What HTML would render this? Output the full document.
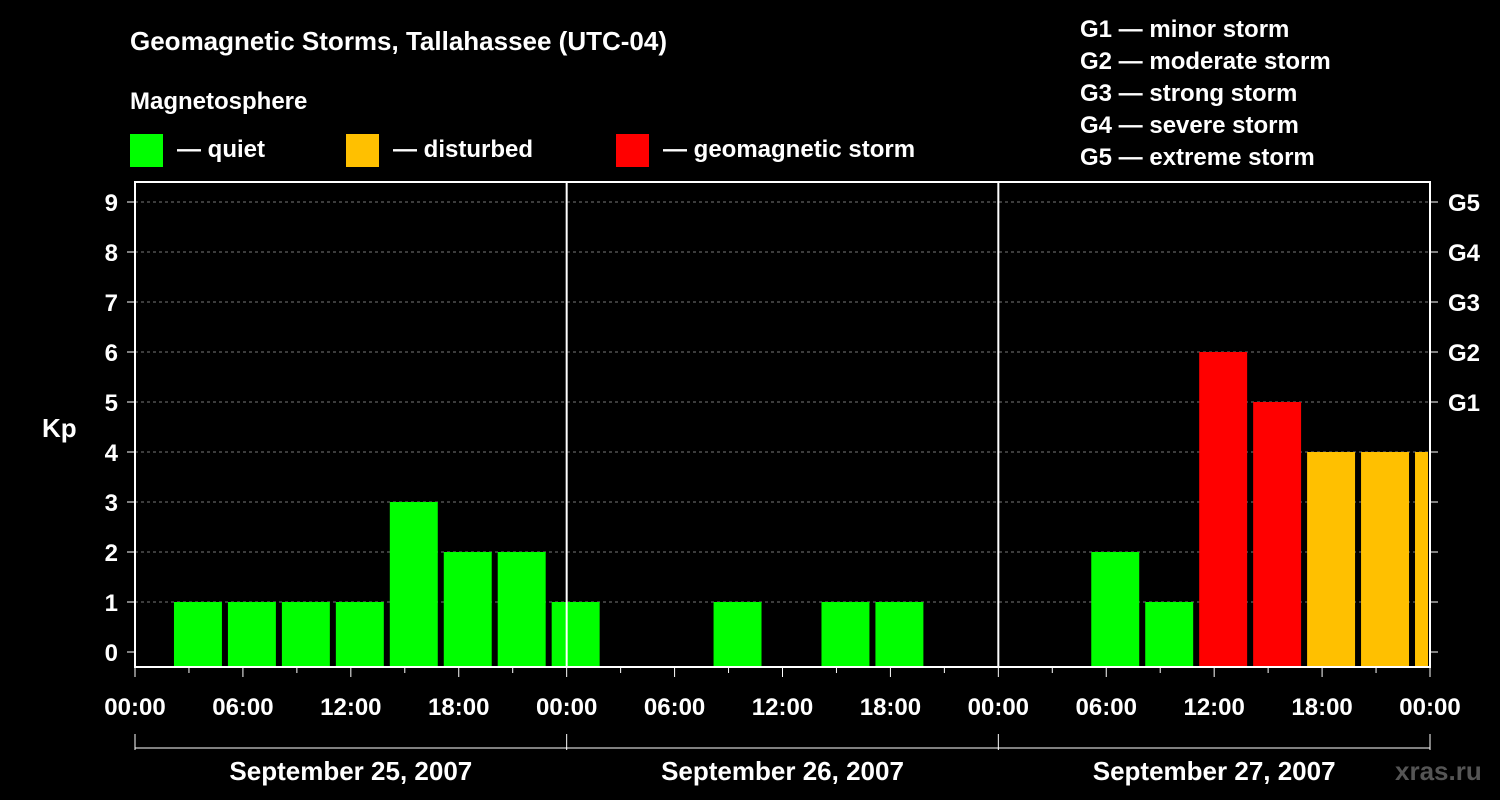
<!DOCTYPE html>
<html><head><meta charset="utf-8"><style>
body{margin:0;background:#000;width:1500px;height:800px;overflow:hidden}
svg{display:block}
text{font-family:"Liberation Sans",sans-serif;font-weight:bold;fill:#fff}
</style></head><body>
<svg id="chart" width="1500" height="800">
<text x="130" y="50" font-size="26">Geomagnetic Storms, Tallahassee (UTC-04)</text>
<text x="130" y="109" font-size="24">Magnetosphere</text>
<g><rect x="130" y="134" width="33" height="33" fill="#00ff00"/><text x="177" y="157" font-size="24">— quiet</text></g>
<g><rect x="346" y="134" width="33" height="33" fill="#ffc000"/><text x="393" y="157" font-size="24">— disturbed</text></g>
<g><rect x="616" y="134" width="33" height="33" fill="#ff0000"/><text x="663" y="157" font-size="24">— geomagnetic storm</text></g>
<g font-size="24">
<text x="1080" y="37">G1 — minor storm</text><text x="1080" y="69">G2 — moderate storm</text><text x="1080" y="101">G3 — strong storm</text><text x="1080" y="133">G4 — severe storm</text><text x="1080" y="165">G5 — extreme storm</text></g>
<text x="42" y="437" font-size="26">Kp</text>
<text x="1395" y="780" font-size="26" fill="#555" style="fill:#555">xras.ru</text>
<g id="grid"></g><g id="bars"></g><g id="axes"></g>
</svg>
<script>
const days=["September 25, 2007","September 26, 2007","September 27, 2007"];
const yTicks=[0,1,2,3,4,5,6,7,8,9];
const gLabels=["G1","G2","G3","G4","G5"];
const xTickLabels=["00:00","06:00","12:00","18:00"];
// bar start hours (local) from start of Sep 25, 3-hour bins
const barStarts=[-1,2,5,8,11,14,17,20,23,26,29,32,35,38,41,44,47,50,53,56,59,62,65,68,71];
const kpValues=[0,1,1,1,1,3,2,2,1,0,0,1,0,1,1,0,0,0,2,1,6,5,4,4,4];
const NS="http://www.w3.org/2000/svg";
const X0=135,X1=1430,Y0=652,YU=50,TOP=182,BOT=667;
const xS=h=>X0+h*(X1-X0)/72, yS=v=>Y0-v*YU;
function mk(t,a,p){const e=document.createElementNS(NS,t);for(const k in a)e.setAttribute(k,a[k]);p.appendChild(e);return e;}
const grid=document.getElementById('grid'),bars=document.getElementById('bars'),axes=document.getElementById('axes');
yTicks.forEach(v=>{if(v>0){const l=mk('line',{x1:X0,x2:X1,y1:yS(v),y2:yS(v),stroke:'#777','stroke-dasharray':'3,3'},grid);

}
const t=mk('text',{x:118,y:yS(v)+9,'font-size':24,'text-anchor':'end'},axes);t.textContent=v;


mk('line',{x1:X1,x2:X1+8,y1:yS(v),y2:yS(v),stroke:'#fff'},axes);
mk('line',{x1:X0-8,x2:X0,y1:yS(v),y2:yS(v),stroke:'#fff'},axes);});
gLabels.forEach((g,i)=>{const t=mk('text',{x:1448,y:yS(i+5)+9,'font-size':24},axes);t.textContent=g;

});
barStarts.forEach((h,i)=>{const v=kpValues[i];if(v<=0)return;
let a=Math.max(xS(h)+3,X0),b=Math.min(xS(h+3)-3,X1-2);if(b<=a)return;
const c=v>=5?'#ff0000':v>=4?'#ffc000':'#00ff00';
const r=mk('rect',{x:a,y:yS(v),width:b-a,height:Y0-yS(v)+15,fill:c},bars);

});
mk('rect',{x:X0,y:TOP,width:X1-X0,height:BOT-TOP,fill:'none',stroke:'#fff','stroke-width':2},axes);
for(let d=1;d<3;d++)mk('line',{x1:xS(d*24),x2:xS(d*24),y1:TOP,y2:BOT,stroke:'#fff','stroke-width':2},axes);
for(let h=0;h<=72;h+=3){mk('line',{x1:xS(h),x2:xS(h),y1:BOT,y2:BOT+(h%6?6:10),stroke:'#fff'},axes);}
for(let h=0;h<=72;h+=6){const t=mk('text',{x:xS(h),y:715,'font-size':24,'text-anchor':'middle'},axes);t.textContent=xTickLabels[(h/6)%4];

}
mk('line',{x1:X0,x2:X1,y1:748,y2:748,stroke:'#fff'},axes);
for(let d=0;d<=3;d++)mk('line',{x1:xS(d*24),x2:xS(d*24),y1:734,y2:750,stroke:'#fff'},axes);
days.forEach((s,i)=>{const t=mk('text',{x:xS(i*24+12),y:780,'font-size':26,'text-anchor':'middle'},axes);t.textContent=s;

});
</script>
</body></html>
